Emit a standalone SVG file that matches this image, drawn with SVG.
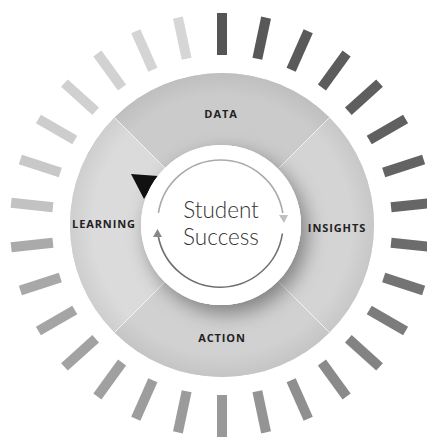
<svg xmlns="http://www.w3.org/2000/svg" width="427" height="437" viewBox="0 0 427 437">
<defs>
<style>
.lbl{font-family:"Open Sans","Liberation Sans",sans-serif;font-weight:700;font-size:11px;letter-spacing:0.9px;fill:#222;text-anchor:middle}
.big{font-family:Lato,"Open Sans","Liberation Sans",sans-serif;font-weight:300;font-size:22.5px;fill:#333;text-anchor:middle}
.div{stroke:#ffffff;stroke-width:1;opacity:0.75}
.arc{fill:none;stroke-width:1.6}
</style>
<filter id="sh" x="-50%" y="-50%" width="200%" height="200%">
<feDropShadow dx="6" dy="8" stdDeviation="10" flood-color="#000" flood-opacity="0.4"/>
</filter>
<radialGradient id="rim" cx="0.5" cy="0.5" r="0.5">
<stop offset="0.85" stop-color="#000" stop-opacity="0"/>
<stop offset="1" stop-color="#000" stop-opacity="0.06"/>
</radialGradient>
</defs>
<rect width="427" height="437" fill="#ffffff"/>
<g id="rays">
<rect x="217" y="13" width="10" height="42" fill="#555555" transform="rotate(0 222 225)"/>
<rect x="217" y="13" width="10" height="42" fill="#585858" transform="rotate(12 222 225)"/>
<rect x="217" y="13" width="10" height="42" fill="#5a5a5a" transform="rotate(24 222 225)"/>
<rect x="217" y="13" width="10" height="42" fill="#5c5c5c" transform="rotate(36 222 225)"/>
<rect x="217" y="13" width="10" height="42" fill="#5e5e5e" transform="rotate(48 222 225)"/>
<rect x="217" y="13" width="10" height="42" fill="#606060" transform="rotate(60 222 225)"/>
<rect x="217" y="13" width="10" height="42" fill="#636363" transform="rotate(72 222 225)"/>
<rect x="217" y="13" width="10" height="42" fill="#666666" transform="rotate(84 222 225)"/>
<rect x="217" y="13" width="10" height="42" fill="#6c6c6c" transform="rotate(96 222 225)"/>
<rect x="217" y="13" width="10" height="42" fill="#747474" transform="rotate(108 222 225)"/>
<rect x="217" y="13" width="10" height="42" fill="#7c7c7c" transform="rotate(120 222 225)"/>
<rect x="217" y="13" width="10" height="42" fill="#838383" transform="rotate(132 222 225)"/>
<rect x="217" y="13" width="10" height="42" fill="#8a8a8a" transform="rotate(144 222 225)"/>
<rect x="217" y="13" width="10" height="42" fill="#8f8f8f" transform="rotate(156 222 225)"/>
<rect x="217" y="13" width="10" height="42" fill="#949494" transform="rotate(168 222 225)"/>
<rect x="217" y="13" width="10" height="42" fill="#999999" transform="rotate(180 222 225)"/>
<rect x="217" y="13" width="10" height="42" fill="#9b9b9b" transform="rotate(192 222 225)"/>
<rect x="217" y="13" width="10" height="42" fill="#9d9d9d" transform="rotate(204 222 225)"/>
<rect x="217" y="13" width="10" height="42" fill="#a0a0a0" transform="rotate(216 222 225)"/>
<rect x="217" y="13" width="10" height="42" fill="#a2a2a2" transform="rotate(228 222 225)"/>
<rect x="217" y="13" width="10" height="42" fill="#a5a5a5" transform="rotate(240 222 225)"/>
<rect x="217" y="13" width="10" height="42" fill="#a8a8a8" transform="rotate(252 222 225)"/>
<rect x="217" y="13" width="10" height="42" fill="#aaaaaa" transform="rotate(264 222 225)"/>
<rect x="217" y="13" width="10" height="42" fill="#c2c2c2" transform="rotate(276 222 225)"/>
<rect x="217" y="13" width="10" height="42" fill="#c8c8c8" transform="rotate(288 222 225)"/>
<rect x="217" y="13" width="10" height="42" fill="#cdcdcd" transform="rotate(300 222 225)"/>
<rect x="217" y="13" width="10" height="42" fill="#d0d0d0" transform="rotate(312 222 225)"/>
<rect x="217" y="13" width="10" height="42" fill="#d2d2d2" transform="rotate(324 222 225)"/>
<rect x="217" y="13" width="10" height="42" fill="#d4d4d4" transform="rotate(336 222 225)"/>
<rect x="217" y="13" width="10" height="42" fill="#d6d6d6" transform="rotate(348 222 225)"/>
</g>
<g id="disk">
<circle cx="222" cy="225" r="152" fill="#d6d6d6"/>
</g>
<g id="data">
<path d="M222 225 L114.52 117.52 A152 152 0 0 1 329.48 117.52 Z" fill="#cbcbcb"/>
<text class="lbl" x="221" y="118">DATA</text>
</g>
<g id="insights">
<path d="M222 225 L329.48 117.52 A152 152 0 0 1 329.48 332.48 Z" fill="#d4d4d4"/>
</g>
<g id="action">
<path d="M222 225 L329.48 332.48 A152 152 0 0 1 114.52 332.48 Z" fill="#d1d1d1"/>
</g>
<g id="learning">
<path d="M222 225 L114.52 332.48 A152 152 0 0 1 114.52 117.52 Z" fill="#dbdbdb"/>
</g>
<g id="dividers">
<circle cx="222" cy="225" r="152" fill="url(#rim)"/>
<line class="div" x1="114.52" y1="117.52" x2="165" y2="168"/>
<line class="div" x1="329.48" y1="117.52" x2="279" y2="168"/>
<line class="div" x1="329.48" y1="332.48" x2="279" y2="282"/>
<line class="div" x1="114.52" y1="332.48" x2="165" y2="282"/>
</g>
<g id="labels">
<text class="lbl" x="337" y="232">INSIGHTS</text>
<text class="lbl" x="222" y="342">ACTION</text>
<text class="lbl" x="104" y="228">LEARNING</text>
</g>
<g id="pointer">
<polygon points="131,174 158,176 144,199" fill="#111111"/>
</g>
<g id="center">
<circle cx="221" cy="225" r="80" fill="#ffffff" filter="url(#sh)"/>
<circle cx="221" cy="225" r="80" fill="#ffffff"/>
<text class="big" x="221" y="218">Student</text>
<text class="big" x="221" y="245">Success</text>
</g>
<g id="connectors">
<path class="arc" d="M158.4 212.9 A63 63 0 0 1 282.8 213" stroke="#aaaaaa"/>
<polygon points="279,215 288,215 284,223" fill="#c0c0c0"/>
<path class="arc" d="M282.4 233.5 A63 63 0 0 1 158.2 236" stroke="#707070"/>
<polygon points="153,237 162,237 157.5,229" fill="#888888"/>
</g>
</svg>
